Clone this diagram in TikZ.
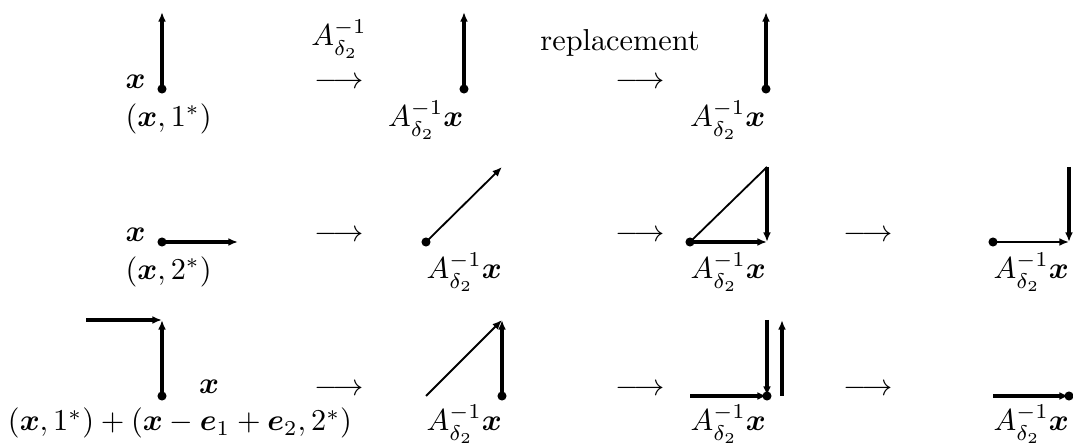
\documentclass[tikz,border=0pt]{standalone}
\usepackage{amsmath,bm}
\usetikzlibrary{arrows.meta}
\begin{document}
\begin{tikzpicture}[x=0.33pt,y=-0.33pt,
  vec/.style={line width=1pt,-{Latex[length=3.2pt,width=2.6pt]}},
  thinvec/.style={line width=0.6pt,-{Latex[length=3.2pt,width=2.6pt]}},
  thinseg/.style={line width=0.6pt},
  dotpt/.style={circle,fill,inner sep=0pt,minimum size=3pt},
  lab/.style={anchor=base,inner sep=0pt},
  labw/.style={anchor=base west,inner sep=0pt},
  labe/.style={anchor=base east,inner sep=0pt}]
\useasboundingbox (0,0) rectangle (1073,445);
% ---------- row 1
\coordinate (p11) at (162,89); \coordinate (p11t) at (162,12);
\draw[vec] (p11) -- (p11t);
\node[dotpt] (d11) at (p11) {};
\node[labw] (x11) at (125,89) {$\bm{x}$};
\node[labw] (l11) at (125,127) {$(\bm{x},1^*)$};
\node[lab] (A1) at (339,46) {$A_{\delta_2}^{-1}$};
\node[lab] (r11) at (339,89) {$\longrightarrow$};
\coordinate (p12) at (464,89); \coordinate (p12t) at (464,12);
\draw[vec] (p12) -- (p12t);
\node[dotpt] (d12) at (p12) {};
\node[labe] (l12) at (464,127) {$A_{\delta_2}^{-1}\bm{x}$};
\node[lab] (rep) at (620,51) {replacement};
\node[lab] (r12) at (640,89) {$\longrightarrow$};
\coordinate (p13) at (766,89); \coordinate (p13t) at (766,12);
\draw[vec] (p13) -- (p13t);
\node[dotpt] (d13) at (p13) {};
\node[labe] (l13) at (766,127) {$A_{\delta_2}^{-1}\bm{x}$};
% ---------- row 2
\coordinate (p21) at (162,242); \coordinate (p21e) at (238,242);
\draw[vec] (p21) -- (p21e);
\node[dotpt] (d21) at (p21) {};
\node[labw] (x21) at (125,242) {$\bm{x}$};
\node[labw] (l21) at (125,280) {$(\bm{x},2^*)$};
\node[lab] (r21) at (339,242) {$\longrightarrow$};
\coordinate (p22) at (426,242); \coordinate (p22e) at (502,167);
\draw[thinvec] (p22) -- (p22e);
\node[dotpt] (d22) at (p22) {};
\node[labw] (l22) at (426,279) {$A_{\delta_2}^{-1}\bm{x}$};
\node[lab] (r22) at (640,242) {$\longrightarrow$};
\coordinate (p23) at (690,242); \coordinate (p23t) at (767,167); \coordinate (p23e) at (767,242);
\draw[thinseg] (p23) -- (p23t);
\draw[vec] (p23t) -- (p23e);
\draw[vec] (p23) -- (p23e);
\node[dotpt] (d23) at (p23) {};
\node[labw] (l23) at (690,279) {$A_{\delta_2}^{-1}\bm{x}$};
\node[lab] (r23) at (868,242) {$\longrightarrow$};
\coordinate (p24) at (993,242); \coordinate (p24t) at (1069,167); \coordinate (p24e) at (1069,242);
\draw[thinvec] (p24) -- (p24e);
\draw[vec] (p24t) -- (p24e);
\node[dotpt] (d24) at (p24) {};
\node[labw] (l24) at (993,279) {$A_{\delta_2}^{-1}\bm{x}$};
% ---------- row 3
\coordinate (p31) at (162,396); \coordinate (p31t) at (162,320); \coordinate (p31l) at (86,320);
\draw[vec] (p31) -- (p31t);
\draw[vec] (p31l) -- (p31t);
\node[dotpt] (d31) at (p31) {};
\node[lab] (x31) at (209,394) {$\bm{x}$};
\node[lab] (l31) at (180,431) {$(\bm{x},1^*)+(\bm{x}-\bm{e}_1+\bm{e}_2,2^*)$};
\node[lab] (r31) at (339,396) {$\longrightarrow$};
\coordinate (p32) at (502,396); \coordinate (p32t) at (502,320); \coordinate (p32s) at (426,396);
\draw[vec] (p32) -- (p32t);
\draw[thinvec] (p32s) -- (p32t);
\node[dotpt] (d32) at (p32) {};
\node[labw] (l32) at (426,431) {$A_{\delta_2}^{-1}\bm{x}$};
\node[lab] (r32) at (640,396) {$\longrightarrow$};
\coordinate (p33s) at (690,396); \coordinate (p33) at (767,396); \coordinate (p33t) at (767,320);
\coordinate (p33b) at (782,396); \coordinate (p33u) at (782,320);
\draw[vec] (p33s) -- (p33);
\draw[vec] (p33t) -- (p33);
\draw[vec] (p33b) -- (p33u);
\node[dotpt] (d33) at (p33) {};
\node[labw] (l33) at (690,431) {$A_{\delta_2}^{-1}\bm{x}$};
\node[lab] (r33) at (868,396) {$\longrightarrow$};
\coordinate (p34s) at (993,396); \coordinate (p34) at (1069,396);
\draw[vec] (p34s) -- (p34);
\node[dotpt] (d34) at (p34) {};
\node[labw] (l34) at (993,431) {$A_{\delta_2}^{-1}\bm{x}$};
\end{tikzpicture}
\end{document}
